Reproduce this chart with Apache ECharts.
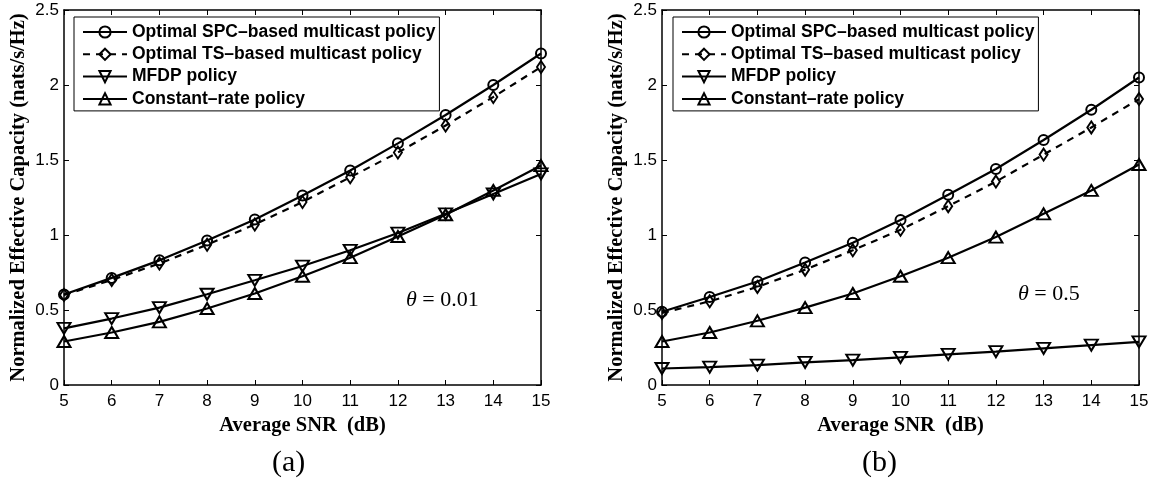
<!DOCTYPE html>
<html>
<head>
<meta charset="utf-8">
<script src="https://cdn.jsdelivr.net/npm/echarts@6/dist/echarts.min.js"></script>
<style>
  html, body { margin: 0; padding: 0; background: #fff; }
  #c { width: 1156px; height: 483px; }
</style>
</head>
<body>
<div id="c"></div>
<script>
// ---- data ----
const snr = [5, 6, 7, 8, 9, 10, 11, 12, 13, 14, 15];
const yTicks = [0, 0.5, 1, 1.5, 2, 2.5];
const seriesNames = [
  'Optimal SPC\u2013based multicast policy',
  'Optimal TS\u2013based multicast policy',
  'MFDP policy',
  'Constant\u2013rate policy'
];
// (a) theta = 0.01
const spcA   = [0.603, 0.714, 0.831, 0.964, 1.104, 1.263, 1.430, 1.611, 1.800, 2.000, 2.210];
const tsA    = [0.600, 0.700, 0.810, 0.935, 1.070, 1.220, 1.385, 1.550, 1.730, 1.920, 2.120];
const mfdpA  = [0.378, 0.443, 0.516, 0.605, 0.698, 0.793, 0.898, 1.013, 1.141, 1.274, 1.407];
const constA = [0.290, 0.350, 0.421, 0.510, 0.610, 0.725, 0.849, 0.990, 1.135, 1.297, 1.463];
// (b) theta = 0.5
const spcB   = [0.488, 0.587, 0.690, 0.816, 0.949, 1.100, 1.268, 1.440, 1.633, 1.835, 2.050];
const tsB    = [0.480, 0.558, 0.654, 0.769, 0.898, 1.035, 1.192, 1.356, 1.536, 1.717, 1.906];
const mfdpB  = [0.110, 0.119, 0.133, 0.151, 0.166, 0.184, 0.204, 0.222, 0.244, 0.266, 0.288];
const constB = [0.290, 0.350, 0.428, 0.516, 0.610, 0.725, 0.849, 0.986, 1.141, 1.297, 1.470];
const thetaA = '0.01';
const thetaB = '0.5';

// ---- chart ----
const chart = echarts.init(document.getElementById('c'), null, { renderer: 'canvas' });
const pairs = (ys) => snr.map((x, i) => [x, ys[i]]);

const grids = [
  { left: 64, top: 10, width: 477, height: 375 },
  { left: 662, top: 10, width: 477, height: 375 }
];

const tickFont = { fontFamily: 'Liberation Sans, Arial, sans-serif', fontSize: 17, color: '#000' };
const nameFont = { fontFamily: 'Liberation Serif, Times New Roman, serif', fontWeight: 'bold', fontSize: 20.5, color: '#000' };
const lineAx = { show: true, lineStyle: { color: '#000', width: 1.5 } };
const tickAx = { show: true, inside: true, length: 5, lineStyle: { color: '#000', width: 1 } };

const xAxes = [], yAxes = [];
[0, 1].forEach(g => {
  xAxes.push({
    type: 'value', gridIndex: g, min: 5, max: 15, interval: 1, position: 'bottom',
    axisLine: Object.assign({}, lineAx, { onZero: false }), axisTick: tickAx, splitLine: { show: false },
    axisLabel: Object.assign({ margin: 8 }, tickFont),
    name: 'Average SNR  (dB)', nameLocation: 'middle', nameGap: 25, nameTextStyle: nameFont
  });
  xAxes.push({
    type: 'value', gridIndex: g, min: 5, max: 15, interval: 1, position: 'top',
    axisLine: Object.assign({}, lineAx, { onZero: false }), axisTick: tickAx, splitLine: { show: false },
    axisLabel: { show: false }
  });
  yAxes.push({
    type: 'value', gridIndex: g, min: 0, max: 2.5, interval: 0.5, position: 'left',
    axisLine: Object.assign({}, lineAx, { onZero: false }), axisTick: tickAx, splitLine: { show: false },
    axisLabel: Object.assign({ margin: 5, formatter: v => String(v) }, tickFont),
    name: 'Normalized Effective Capacity (nats/s/Hz)', nameLocation: 'middle', nameGap: 35, nameTextStyle: nameFont
  });
  yAxes.push({
    type: 'value', gridIndex: g, min: 0, max: 2.5, interval: 0.5, position: 'right',
    axisLine: Object.assign({}, lineAx, { onZero: false }), axisTick: tickAx, splitLine: { show: false },
    axisLabel: { show: false }
  });
});

const mk = {
  circle:  { symbol: 'circle', symbolSize: 10 },
  diamond: { symbol: 'diamond', symbolSize: [8, 12] },
  down:    { symbol: 'triangle', symbolSize: [13, 11], symbolRotate: 180 },
  up:      { symbol: 'triangle', symbolSize: [13, 11] }
};
function mkSeries(name, data, g, m, dashed) {
  return Object.assign({
    type: 'line', name: name, data: pairs(data),
    xAxisIndex: g * 2, yAxisIndex: g * 2,
    showAllSymbol: true, animation: false, z: 3,
    lineStyle: { color: '#000', width: 2.2, type: dashed ? [7, 6] : 'solid' },
    itemStyle: { color: 'rgba(255,255,255,0)', borderColor: '#000', borderWidth: 2 },
    emphasis: { disabled: true }
  }, m);
}

const series = [
  mkSeries(seriesNames[0], spcA, 0, mk.circle, false),
  mkSeries(seriesNames[1], tsA, 0, mk.diamond, true),
  mkSeries(seriesNames[2], mfdpA, 0, mk.down, false),
  mkSeries(seriesNames[3], constA, 0, mk.up, false),
  mkSeries(seriesNames[0], spcB, 1, mk.circle, false),
  mkSeries(seriesNames[1], tsB, 1, mk.diamond, true),
  mkSeries(seriesNames[2], mfdpB, 1, mk.down, false),
  mkSeries(seriesNames[3], constB, 1, mk.up, false)
];

function mkLegend(left) {
  return {
    orient: 'vertical', left: left, top: 17,
    data: seriesNames,
    itemWidth: 44, itemHeight: 14, itemGap: 4.3,
    padding: [6, 4, 3, 8],
    backgroundColor: '#fff', borderColor: '#000', borderWidth: 1,
    selectedMode: false,
    textStyle: { fontFamily: 'Liberation Sans, Arial, sans-serif', fontWeight: 'bold', fontSize: 17.5, color: '#000', padding: [0, 0, 0, 0] }
  };
}

const thetaText = (x, y, val) => ({
  type: 'text', left: x, top: y,
  style: {
    text: '{i|\u03b8} = ' + val,
    rich: { i: { fontStyle: 'italic', fontFamily: 'Liberation Serif, serif', fontSize: 22 } },
    font: '22px Liberation Serif, serif', fill: '#000'
  }
});

chart.setOption({
  animation: false,
  backgroundColor: '#fff',
  grid: grids,
  xAxis: xAxes,
  yAxis: yAxes,
  legend: [mkLegend(74), mkLegend(673)],
  series: series,
  graphic: [
    thetaText(406, 289, thetaA),
    thetaText(1018, 283, thetaB),
    { type: 'text', left: 272, top: 448, style: { text: '(a)', font: '30px Liberation Serif, serif', fill: '#000' } },
    { type: 'text', left: 862, top: 448, style: { text: '(b)', font: '30px Liberation Serif, serif', fill: '#000' } }
  ]
});
</script>
</body>
</html>
